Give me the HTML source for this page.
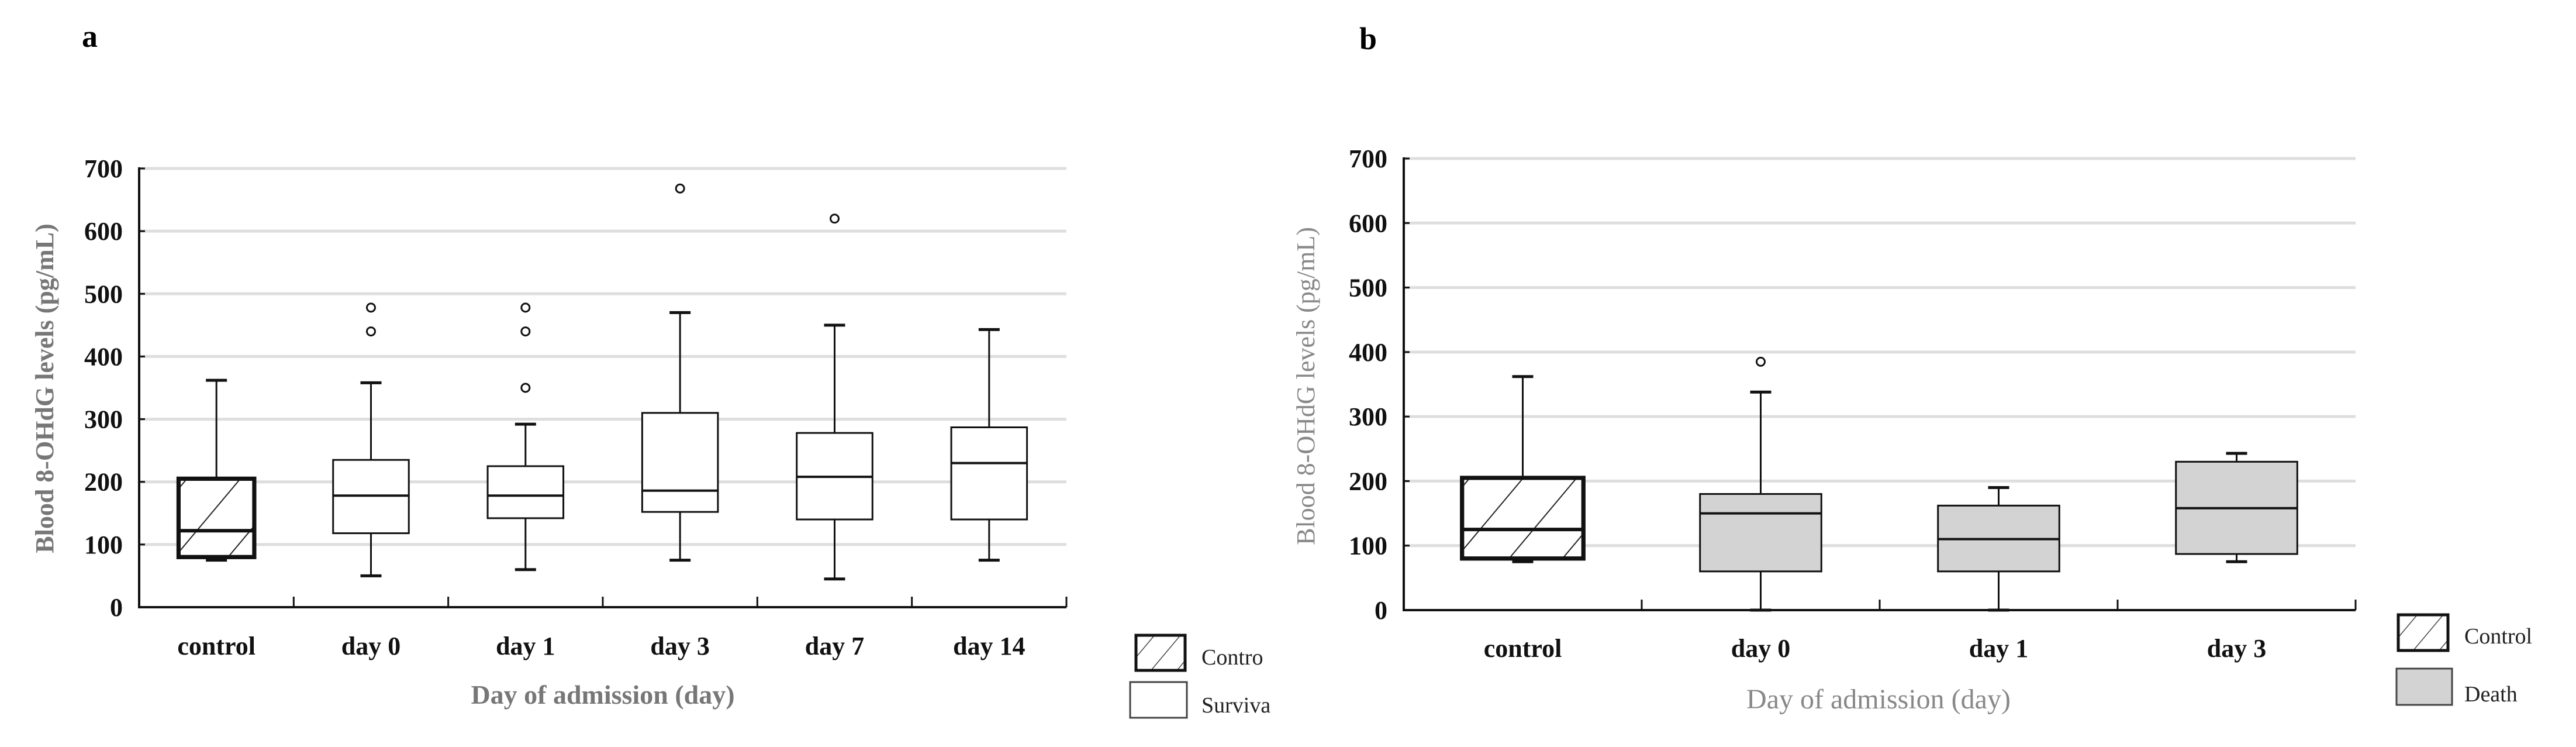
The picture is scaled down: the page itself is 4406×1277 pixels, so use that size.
<!DOCTYPE html>
<html><head><meta charset="utf-8">
<style>
html,body{margin:0;padding:0;background:#fff;}
svg{display:block;}
text{font-family:"Liberation Serif",serif;}
</style></head>
<body>
<svg id="chart" width="4406" height="1277" viewBox="0 0 4406 1277" xmlns="http://www.w3.org/2000/svg">
<defs>
<pattern id="hatch" patternUnits="userSpaceOnUse" width="70" height="70" patternTransform="rotate(40)">
<line x1="0" y1="0" x2="0" y2="70" stroke="#222" stroke-width="4"/>
</pattern>
</defs>
</svg>
<script>
// Panel a data
const catsA = ["control","day 0","day 1","day 3","day 7","day 14"];
const minA = [75,50,60,75,45,75];
const q1A = [80,118,142,152,140,140];
const medA = [122,178,178,186,208,230];
const q3A = [205,235,225,310,278,287];
const maxA = [362,358,292,470,450,443];
const outA = [[],[440,478],[350,440,478],[668],[620],[]];
// Panel b data
const catsB = ["control","day 0","day 1","day 3"];
const minB = [75,0,0,75];
const q1B = [80,60,60,87];
const medB = [125,150,110,158];
const q3B = [205,180,162,230];
const maxB = [362,338,190,243];
const outB = [[],[385],[],[]];
const yTicks = [0,100,200,300,400,500,600,700];

const svg = document.getElementById('chart');
const NS = 'http://www.w3.org/2000/svg';
function mk(tag, attrs, parent){
  const e = document.createElementNS(NS, tag);
  for (const k in attrs) e.setAttribute(k, attrs[k]);
  (parent||svg).appendChild(e);
  return e;
}

function panel(cfg){
  const g = mk('g', {});
  
  
  const y = v => cfg.y0 - (v/700)*(cfg.y0-cfg.y700);
  const band = (cfg.x1-cfg.x0)/cfg.cats.length;
  const cx = i => cfg.x0 + band*(i+0.5);
  yTicks.forEach(t=>{
    if(t===0) return;
    const l = mk('line',{x1:cfg.x0,x2:cfg.x1,y1:y(t),y2:y(t),stroke:'#dedede','stroke-width':5},g);
    
    
  });
  yTicks.forEach(t=>{
    const tx = mk('text',{x:cfg.x0-28,y:y(t)+15,'text-anchor':'end','font-size':44,'font-weight':'bold',fill:'#111'},g);
    tx.textContent = t;
    
    
    mk('line',{x1:cfg.x0,x2:cfg.x0+10,y1:y(t),y2:y(t),stroke:'#111','stroke-width':3},g);
  });
  const ya = mk('line',{x1:cfg.x0,x2:cfg.x0,y1:y(700)-2,y2:y(0)+2,stroke:'#111','stroke-width':4},g);
  
  
  const xa = mk('line',{x1:cfg.x0-2,x2:cfg.x1,y1:y(0),y2:y(0),stroke:'#111','stroke-width':4},g);
  
  
  for(let i=1;i<=cfg.cats.length;i++){
    mk('line',{x1:cfg.x0+band*i,x2:cfg.x0+band*i,y1:y(0),y2:y(0)-18,stroke:'#111','stroke-width':3},g);
  }
  const bw = band*cfg.bwFrac;
  cfg.cats.forEach((c,i)=>{
    const bg = mk('g',{},g);
    
    
    const x = cx(i);
    const sw = i===0 ? 7 : 3;
    mk('line',{x1:x,x2:x,y1:y(cfg.max[i]),y2:y(cfg.q3[i]),stroke:'#111','stroke-width':3},bg);
    mk('line',{x1:x,x2:x,y1:y(cfg.q1[i]),y2:y(cfg.min[i]),stroke:'#111','stroke-width':3},bg);
    mk('line',{x1:x-18,x2:x+18,y1:y(cfg.max[i]),y2:y(cfg.max[i]),stroke:'#111','stroke-width':5},bg);
    mk('line',{x1:x-18,x2:x+18,y1:y(cfg.min[i]),y2:y(cfg.min[i]),stroke:'#111','stroke-width':5},bg);
    const fill = i===0 ? '#fff' : cfg.fill;
    mk('rect',{x:x-bw/2,y:y(cfg.q3[i]),width:bw,height:y(cfg.q1[i])-y(cfg.q3[i]),fill:fill,stroke:'#111','stroke-width':sw},bg);
    if(i===0) mk('rect',{x:x-bw/2,y:y(cfg.q3[i]),width:bw,height:y(cfg.q1[i])-y(cfg.q3[i]),fill:'url(#hatch)',stroke:'#111','stroke-width':sw},bg);
    mk('line',{x1:x-bw/2,x2:x+bw/2,y1:y(cfg.med[i]),y2:y(cfg.med[i]),stroke:'#111','stroke-width':i===0?6:4},bg);
    cfg.out[i].forEach(o=>{
      const c2 = mk('circle',{cx:x,cy:y(o),r:7,fill:'none',stroke:'#111','stroke-width':3},bg);
      
      
    });
    const lt = mk('text',{x:x,y:cfg.catY,'text-anchor':'middle','font-size':44,'font-weight':'bold',fill:'#111'},g);
    lt.textContent = c;
    
    
  });
}

panel({name:'panel-a',cats:catsA,min:minA,q1:q1A,med:medA,q3:q3A,max:maxA,out:outA,
  x0:238,x1:1824,y0:1038,y700:288,bwFrac:0.49,fill:'#fff',catY:1119});
panel({name:'panel-b',cats:catsB,min:minB,q1:q1B,med:medB,q3:q3B,max:maxB,out:outB,
  x0:2401,x1:4029,y0:1043,y700:271,bwFrac:0.51,fill:'#d3d3d3',catY:1123});
</script>
<svg style="position:absolute;left:0;top:0" width="4406" height="1277" xmlns="http://www.w3.org/2000/svg">
<defs>
<pattern id="hatch2" patternUnits="userSpaceOnUse" width="34" height="34" patternTransform="rotate(40)">
<line x1="0" y1="0" x2="0" y2="34" stroke="#444" stroke-width="3"/>
</pattern>
</defs>
<text x="140" y="80" font-size="54" font-weight="bold" font-family="Liberation Serif, serif">a</text>
<text x="2325" y="84" font-size="54" font-weight="bold" font-family="Liberation Serif, serif">b</text>
<text transform="translate(91,664) rotate(-90)" text-anchor="middle" font-size="44" font-weight="bold" fill="#777" font-family="Liberation Serif, serif">Blood 8-OHdG levels (pg/mL)</text>
<text transform="translate(2248,660) rotate(-90)" text-anchor="middle" font-size="44" fill="#888" font-family="Liberation Serif, serif">Blood 8-OHdG levels (pg/mL)</text>
<text x="1031" y="1203" text-anchor="middle" font-size="46" font-weight="bold" fill="#777" font-family="Liberation Serif, serif">Day of admission (day)</text>
<text x="3213" y="1211" text-anchor="middle" font-size="48" fill="#888" font-family="Liberation Serif, serif">Day of admission (day)</text>
<g>
<rect x="1943" y="1086" width="84" height="60" fill="url(#hatch2)" stroke="#111" stroke-width="5"/>
<text x="2055" y="1136" font-size="38" fill="#222" font-family="Liberation Serif, serif">Contro</text>
<rect x="1933" y="1166" width="97" height="61" fill="#fff" stroke="#444" stroke-width="3"/>
<text x="2055" y="1218" font-size="38" fill="#222" font-family="Liberation Serif, serif">Surviva</text>
</g>
<g>
<rect x="4102" y="1051" width="85" height="61" fill="url(#hatch2)" stroke="#111" stroke-width="5"/>
<text x="4215" y="1100" font-size="38" fill="#222" font-family="Liberation Serif, serif">Control</text>
<rect x="4099" y="1143" width="95" height="62" fill="#d3d3d3" stroke="#444" stroke-width="3"/>
<text x="4215" y="1199" font-size="38" fill="#222" font-family="Liberation Serif, serif">Death</text>
</g>
</svg>
</body></html>
